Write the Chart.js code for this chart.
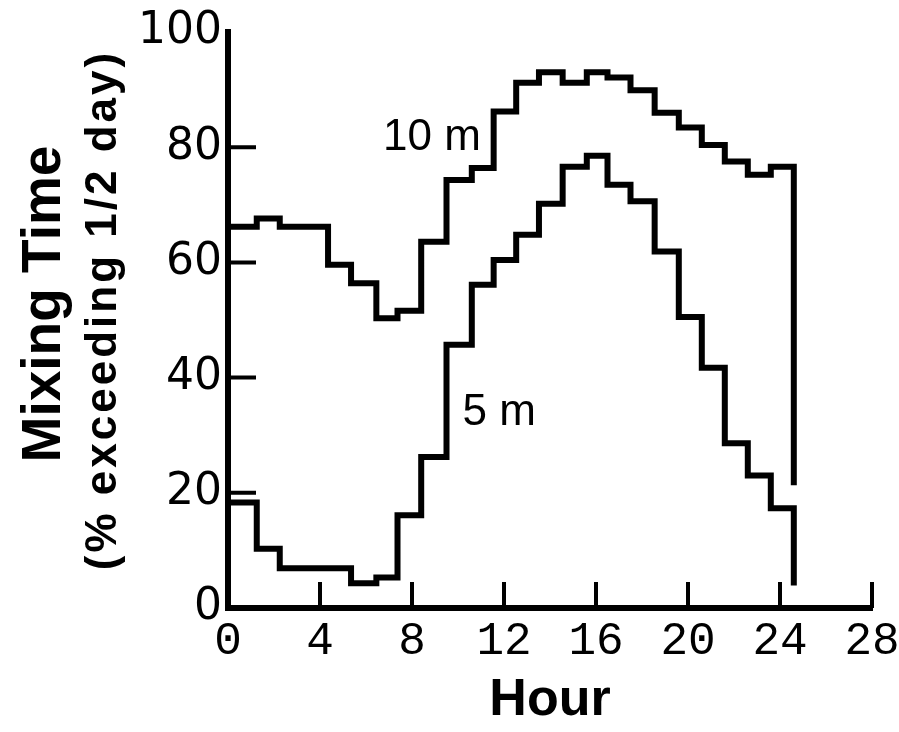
<!DOCTYPE html>
<html>
<head>
<meta charset="utf-8">
<title>Mixing Time</title>
<script src="https://cdn.jsdelivr.net/npm/chart.js@4.4.1/dist/chart.umd.min.js"></script>
<style>
    html, body { margin: 0; padding: 0; background: #fff; }
    #chart { display: block; }
</style>
</head>
<body>
<canvas id="chart" width="899" height="732"></canvas>
<script>
// Hour at which each step starts; the last entry is where both traces stop.
var hours = [0, 1.25, 2.25, 3.3, 4.35, 5.35, 6.45, 7.37, 8.4, 9.5, 10.6, 11.55,
             12.53, 13.52, 14.55, 15.6, 16.5, 17.5, 18.55, 19.6, 20.6, 21.6, 22.6, 23.6, 24.6];

// % of time the mixing time exceeds 1/2 day (last value = end of the closing drop).
var depth10m = [66.2, 67.6, 66.2, 66.2, 59.6, 56.4, 50.3, 51.6, 63.6, 74.3, 76.4, 86.2,
                91.2, 93.0, 91.2, 93.0, 92.1, 89.9, 86.0, 83.4, 80.4, 77.5, 75.2, 76.6, 21.3];
var depth5m = [18.3, 10.3, 6.9, 6.9, 6.9, 4.3, 5.3, 16.1, 26.2, 45.7, 56.1, 60.4,
               64.8, 70.2, 76.6, 78.5, 73.5, 70.6, 61.9, 50.5, 41.7, 28.6, 23.0, 17.3, 3.9];

var xTicks = [0, 4, 8, 12, 16, 20, 24, 28];
var yTicks = [0, 20, 40, 60, 80, 100];

// Curve labels: [text, hour, value] of the text's left baseline.
var curveLabels = [['10 m', 6.74, 79.5], ['5 m', 10.2, 31.8]];

function toPoints(values) {
    return hours.map(function(h, i) {
        return { x: h, y: values[i] };
    });
}

/**
 * Inward tick marks, curve labels and the two-line y axis title.
 */
var decorations = {
    id: 'decorations',
    afterDraw: function(chart) {
        var ctx = chart.ctx;
        var xs = chart.scales.x;
        var ys = chart.scales.y;
        var area = chart.chartArea;

        ctx.save();
        ctx.strokeStyle = '#000';
        ctx.lineWidth = 4;
        ctx.beginPath();
        xTicks.forEach(function(v) {
            if (v === 0) {
                return;
            }
            var px = xs.getPixelForValue(v);
            ctx.moveTo(px, area.bottom);
            ctx.lineTo(px, area.bottom - 26);
        });
        yTicks.forEach(function(v) {
            if (v === 0 || v === 100) {
                return;
            }
            var py = ys.getPixelForValue(v);
            ctx.moveTo(area.left, py);
            ctx.lineTo(area.left + 28, py);
        });
        ctx.stroke();

        ctx.fillStyle = '#000';
        ctx.font = '44px "Liberation Sans", Arial, sans-serif';
        ctx.textAlign = 'left';
        ctx.textBaseline = 'alphabetic';
        curveLabels.forEach(function(l) {
            ctx.fillText(l[0], xs.getPixelForValue(l[1]), ys.getPixelForValue(l[2]));
        });

        // Y axis title, rotated.
        ctx.textAlign = 'center';
        ctx.save();
        ctx.translate(60, 304);
        ctx.rotate(-Math.PI / 2);
        ctx.font = 'bold 55px "Liberation Sans", Arial, sans-serif';
        ctx.fillText('Mixing Time', 0, 0);
        ctx.restore();

        ctx.save();
        ctx.translate(116, 310);
        ctx.rotate(-Math.PI / 2);
        ctx.font = 'bold 44px "Liberation Sans", Arial, sans-serif';
        if ('letterSpacing' in ctx) {
            ctx.letterSpacing = '3px';
        }
        ctx.fillText('(% exceeding 1/2 day)', 0, 0);
        ctx.restore();

        ctx.restore();
    }
};

var lineStyle = {
    borderColor: '#000',
    borderWidth: 6,
    pointRadius: 0,
    fill: false,
    stepped: 'before',
    borderJoinStyle: 'miter',
    borderCapStyle: 'butt'
};

new Chart(document.getElementById('chart').getContext('2d'), {
    type: 'line',
    data: {
        datasets: [
            Object.assign({ label: '10 m', data: toPoints(depth10m) }, lineStyle),
            Object.assign({ label: '5 m', data: toPoints(depth5m) }, lineStyle)
        ]
    },
    options: {
        responsive: false,
        devicePixelRatio: 1,
        animation: false,
        layout: {
            padding: { top: 32, right: 27, bottom: 0, left: 0 }
        },
        plugins: {
            legend: { display: false },
            tooltip: { enabled: false }
        },
        scales: {
            x: {
                type: 'linear',
                min: 0,
                max: 28,
                afterFit: function(scale) {
                    scale.height = 124;
                    scale.paddingLeft = 0;
                    scale.paddingRight = 0;
                },
                afterBuildTicks: function(scale) {
                    scale.ticks = xTicks.map(function(v) { return { value: v }; });
                },
                grid: { display: false, drawTicks: false },
                border: { display: true, color: '#000', width: 6 },
                ticks: {
                    color: '#000',
                    padding: 6,
                    maxRotation: 0,
                    font: { family: '"Liberation Mono", monospace', size: 46 }
                },
                title: {
                    display: true,
                    text: 'Hour',
                    color: '#000',
                    padding: { top: 0, bottom: 0 },
                    font: { family: '"Liberation Sans", Arial, sans-serif', size: 52, weight: 'bold' }
                }
            },
            y: {
                min: 0,
                max: 100,
                afterFit: function(scale) {
                    scale.width = 228;
                    scale.paddingTop = 0;
                    scale.paddingBottom = 0;
                },
                afterBuildTicks: function(scale) {
                    scale.ticks = yTicks.map(function(v) { return { value: v }; });
                },
                grid: { display: false, drawTicks: false },
                border: { display: true, color: '#000', width: 6 },
                ticks: {
                    color: '#000',
                    padding: 6,
                    font: { family: '"DejaVu Sans", sans-serif', size: 44 }
                }
            }
        }
    },
    plugins: [decorations]
});
</script>
</body>
</html>
